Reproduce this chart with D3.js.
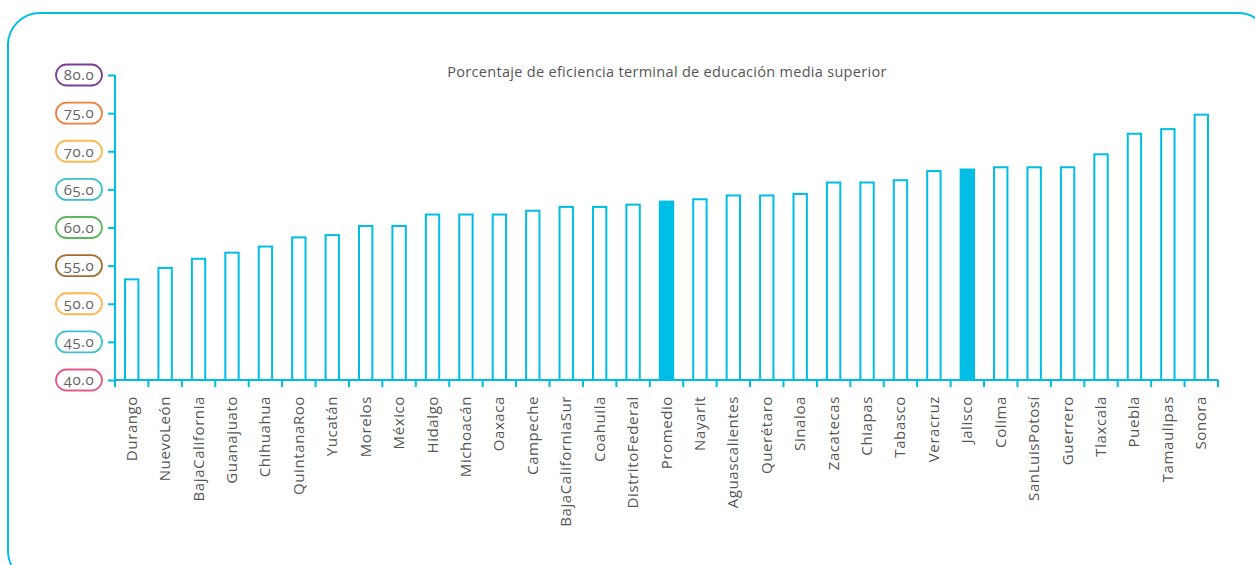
<!DOCTYPE html>
<html><head><meta charset="utf-8">
<script src="https://cdn.jsdelivr.net/npm/d3@7"></script>
<style>body{margin:0;background:#fff;}svg{display:block;font-family:"Open Sans",sans-serif;}</style>
</head><body>
<svg id="c" width="1255" height="565"></svg>
<script>
const title = "Porcentaje de eficiencia terminal de educación media superior";
const categories = ["Durango","NuevoLeón","BajaCalifornia","Guanajuato","Chihuahua","QuintanaRoo","Yucatán","Morelos","México","Hidalgo","Michoacán","Oaxaca","Campeche","BajaCaliforniaSur","Coahuila","DistritoFederal","Promedio","Nayarit","Aguascalientes","Querétaro","Sinaloa","Zacatecas","Chiapas","Tabasco","Veracruz","Jalisco","Colima","SanLuisPotosí","Guerrero","Tlaxcala","Puebla","Tamaulipas","Sonora"];
const values = [53.2,54.7,55.9,56.7,57.5,58.7,59.0,60.2,60.2,61.7,61.7,61.7,62.2,62.7,62.7,63.0,63.4,63.7,64.2,64.2,64.4,65.9,65.9,66.2,67.4,67.6,67.9,67.9,67.9,69.6,72.3,72.9,74.8];
const highlighted = ["Promedio","Jalisco"];
const yTicks = [40,45,50,55,60,65,70,75,80];
const tickColors = ["#e9588b","#3dbfcf","#fdb84f","#a86e2e","#5cb85c","#3dbfcf","#fdb84f","#f27f3d","#7f3f98"];

const cyan = "#00bde6";
const svg = d3.select("#c");

svg.append("rect").attr("x",8).attr("y",13).attr("width",1262).attr("height",570)
  .attr("rx",32).attr("fill","none").attr("stroke",cyan).attr("stroke-width",2);

const x = d3.scaleBand().domain(categories).range([115,1218]).paddingInner(0.6).paddingOuter(0.3);
const y = d3.scaleLinear().domain([40,80]).range([380,75]);

svg.append("text").attr("x",667).attr("y",77).attr("text-anchor","middle")
  .attr("font-size",14.5).attr("letter-spacing",0.3).attr("fill","#555").text(title);

// bars
svg.append("g").selectAll("rect").data(categories).join("rect")
  .attr("x",d=>x(d)).attr("width",x.bandwidth())
  .attr("y",(d,i)=>y(values[i])).attr("height",(d,i)=>y(40)-y(values[i]))
  .attr("fill",d=>highlighted.includes(d)?cyan:"#fff")
  .attr("stroke",cyan).attr("stroke-width",2);

// y axis
const ya = svg.append("g").attr("transform","translate(115,0)")
  .call(d3.axisLeft(y).tickValues(yTicks).tickSize(7).tickFormat(""));
ya.select(".domain").attr("stroke",cyan).attr("stroke-width",2).attr("d","M0,75V380");
ya.selectAll(".tick line").attr("stroke",cyan).attr("stroke-width",2);

// pills
const pills = svg.append("g").selectAll("g").data(yTicks).join("g")
  .attr("transform",d=>`translate(79,${y(d)})`);
pills.append("rect").attr("x",-23).attr("y",-10.5).attr("width",46).attr("height",21).attr("rx",10.5)
  .attr("fill","#fff").attr("stroke",(d,i)=>tickColors[i]).attr("stroke-width",1.8);
pills.append("text").attr("text-anchor","middle").attr("dy","0.35em").attr("font-size",15)
  .attr("letter-spacing",0.5).attr("fill","#666").style("font-variant-numeric","oldstyle-nums").text(d=>d.toFixed(1));

// x axis
const xa = svg.append("g").attr("transform","translate(0,380)");
xa.append("line").attr("x1",115).attr("x2",1218).attr("stroke",cyan).attr("stroke-width",2);
const n = categories.length;
xa.selectAll("line.t").data(d3.range(n+1)).join("line").attr("class","t")
  .attr("x1",i=>x.range()[0]+i*(x.range()[1]-x.range()[0])/n)
  .attr("x2",i=>x.range()[0]+i*(x.range()[1]-x.range()[0])/n)
  .attr("y1",0).attr("y2",7).attr("stroke",cyan).attr("stroke-width",2);
xa.selectAll("text").data(categories).join("text")
  .attr("transform",d=>`translate(${x(d)+x.bandwidth()/2+5},16) rotate(-90)`)
  .attr("text-anchor","end").attr("font-size",15).attr("letter-spacing",0.6).attr("fill","#555").text(d=>d);
</script>
</body></html>
